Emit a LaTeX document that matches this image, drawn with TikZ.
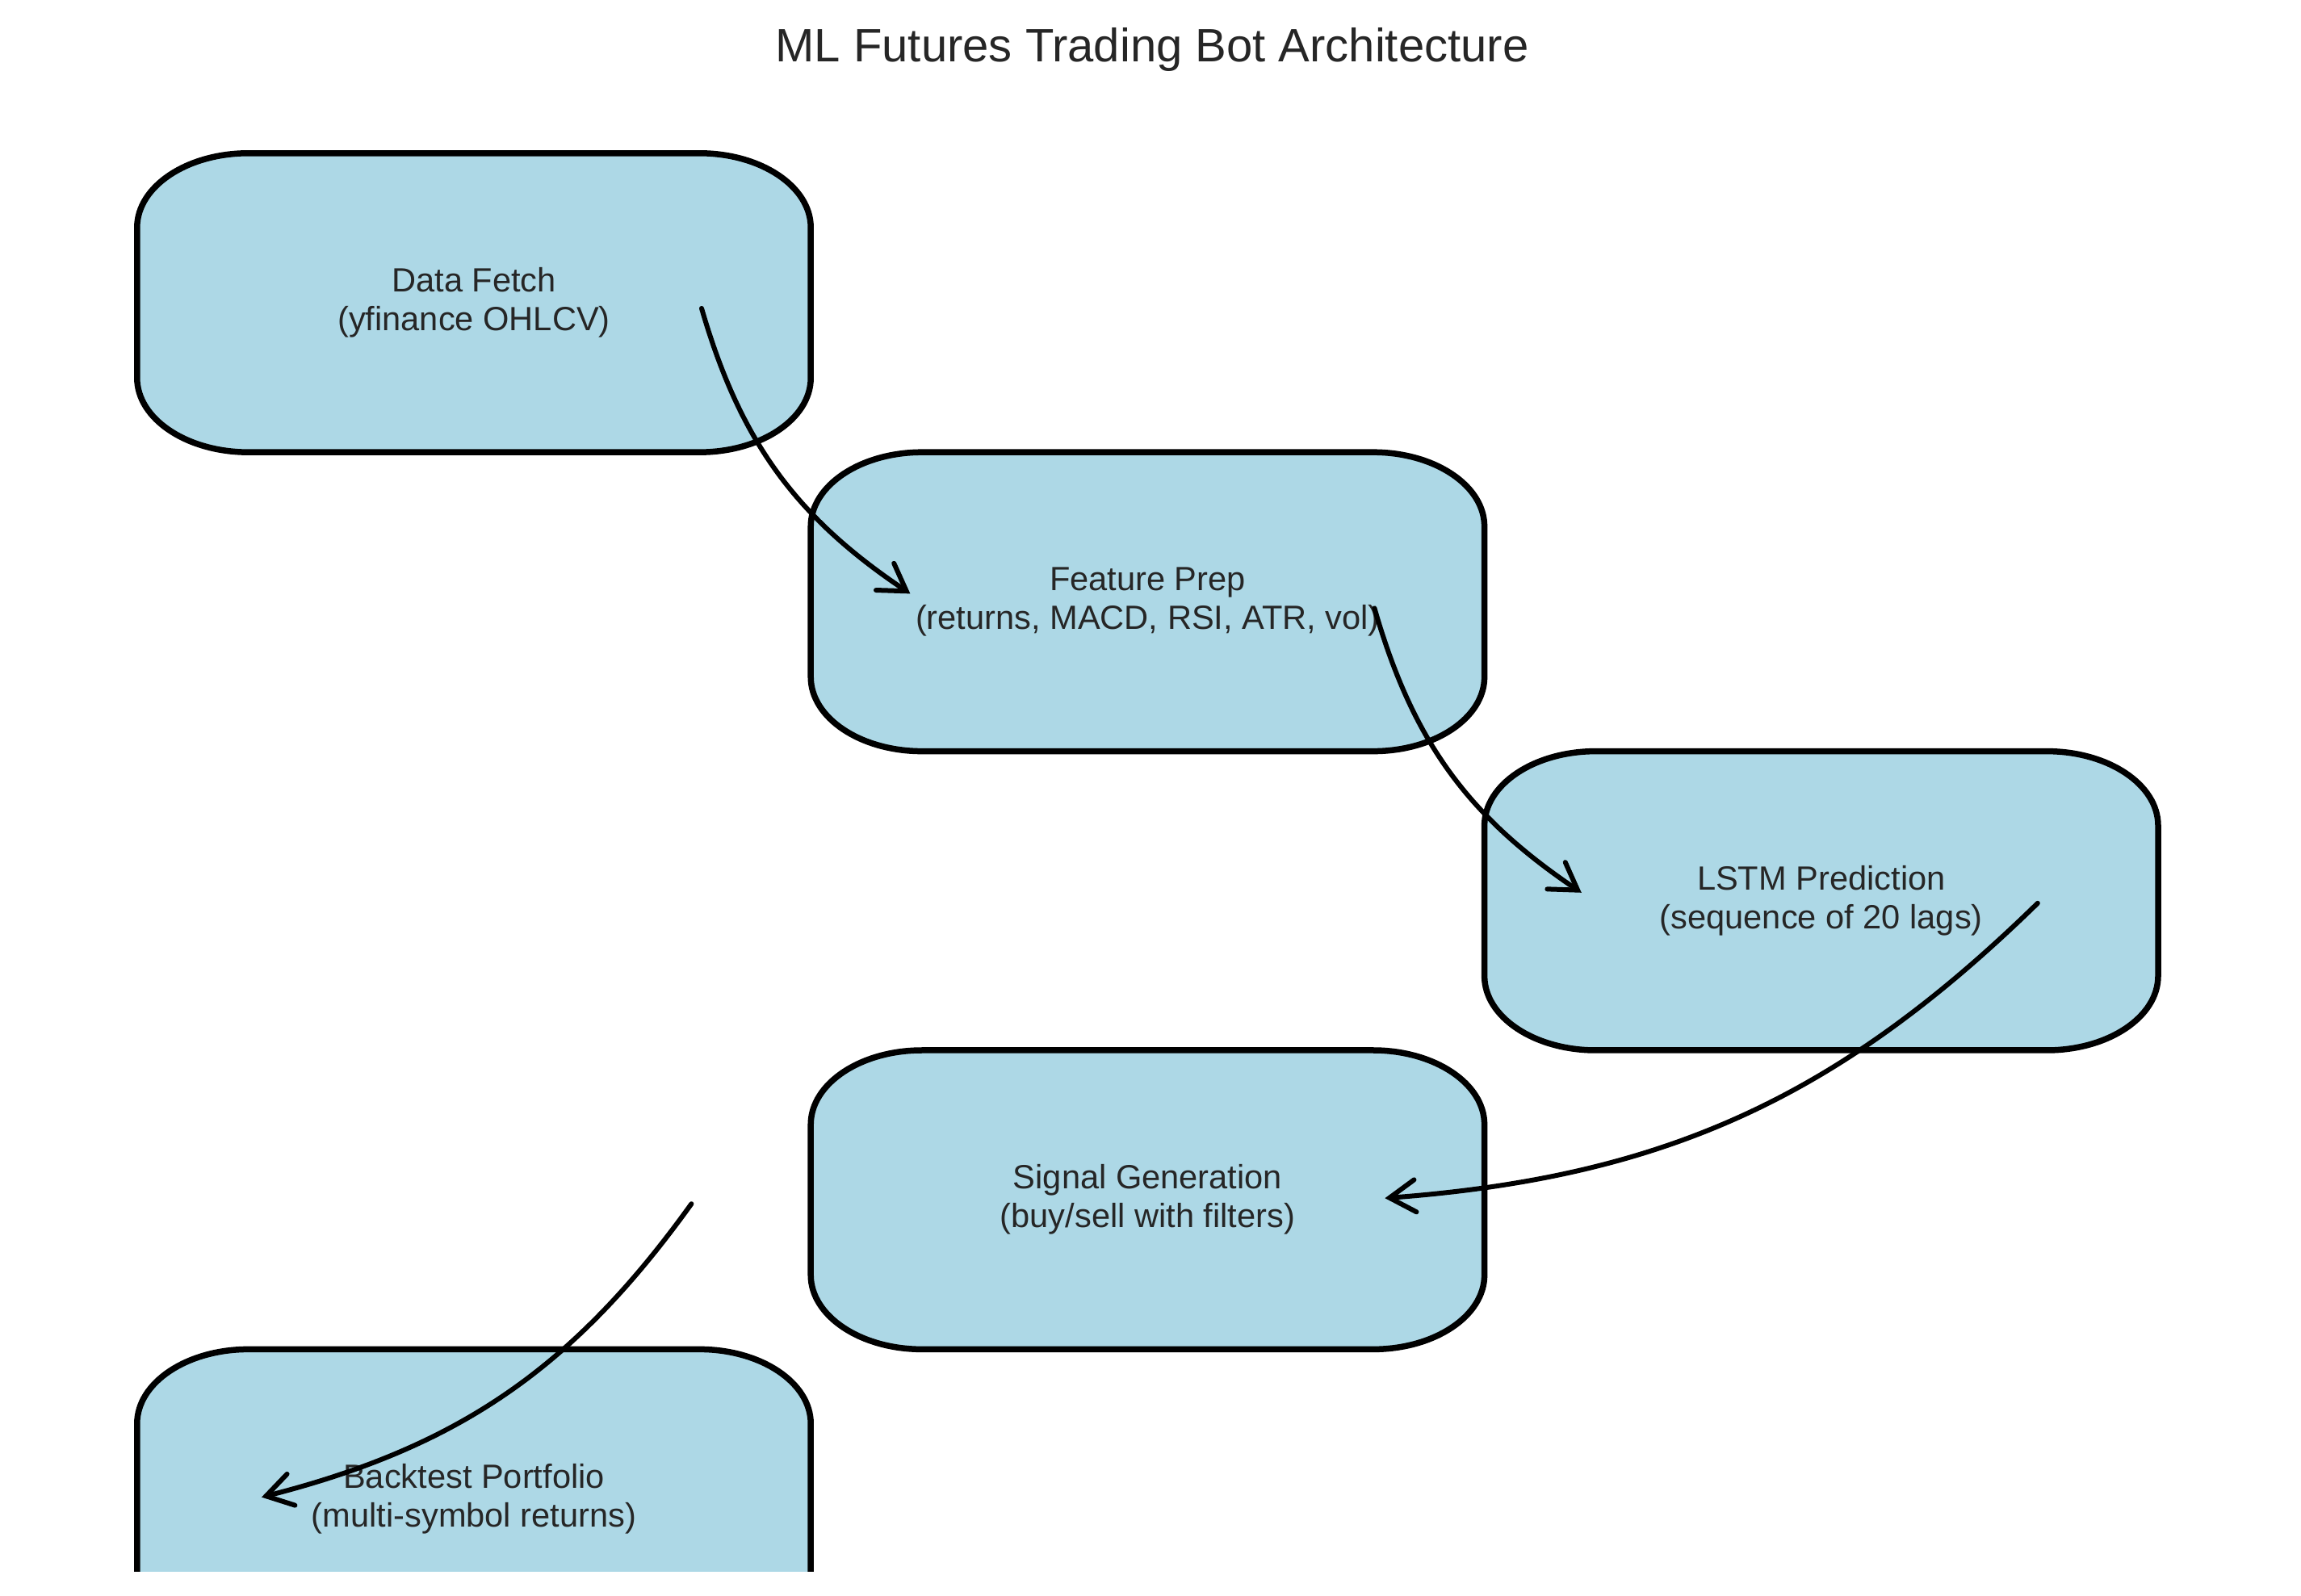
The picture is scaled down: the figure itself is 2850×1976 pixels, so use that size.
\documentclass[tikz,border=0pt]{standalone}
\usepackage{fontspec}
\setmainfont{Liberation Sans}
\usetikzlibrary{positioning,calc,arrows.meta,backgrounds}
\definecolor{boxblue}{HTML}{ADD8E6}
\definecolor{txtgray}{HTML}{262626}
\tikzset{
	stage/.style = {minimum width=834pt, minimum height=370pt, inner sep=0pt,
	 align=center, text=txtgray, font=\fontsize{41.6}{48}\selectfont}}
\tikzset{
	stagebox/.style = {fill=boxblue, draw=black, line width=7.5pt}}
\tikzset{
	flow/.style = {line width=6pt, line cap=round,
	 -{Straight Barb[length=32pt, width=40pt, line cap=round]}}}

\begin{document}
\begin{tikzpicture}[x=1pt, y=1pt, node distance=0pt and 0pt]
\useasboundingbox (0,0) rectangle (2850,1976);

% NODES
\node (title) [anchor=base, text=txtgray, font=\fontsize{58}{70}\selectfont] at (1427,1899) {ML Futures Trading Bot Architecture};
\node (fetch) [stage] at (587,1601) {Data Fetch\\(yfinance OHLCV)};
\node (prep) [stage, below right=of fetch] {Feature Prep\\(returns, MACD, RSI, ATR, vol)};
\node (lstm) [stage, below right=of prep] {LSTM Prediction\\(sequence of 20 lags)};
\node (signal) [stage, below left=of lstm] {Signal Generation\\(buy/sell with filters)};
\node (backtest) [stage, below left=of signal] {Backtest Portfolio\\(multi-symbol returns)};

% BOXES
\begin{scope}[on background layer]
 \clip (0,30) rectangle (2850,1976);
 \foreach \s in {fetch,prep,lstm,signal,backtest}
  \draw[stagebox] ([yshift=92pt]\s.south west) -- ([yshift=-92pt]\s.north west)
   arc[start angle=180, end angle=90, x radius=138pt, y radius=92pt]
   -- ([xshift=-138pt]\s.north east)
   arc[start angle=90, end angle=0, x radius=138pt, y radius=92pt]
   -- ([yshift=92pt]\s.south east)
   arc[start angle=0, end angle=-90, x radius=138pt, y radius=92pt]
   -- ([xshift=138pt]\s.south west)
   arc[start angle=270, end angle=180, x radius=138pt, y radius=92pt] -- cycle;
\end{scope}

% ENDS
\coordinate (fetch-out) at ($(fetch)+(282,-7)$);
\coordinate (prep-in) at ($(prep)+(-294,10)$);
\coordinate (prep-out) at ($(prep)+(281,-8)$);
\coordinate (lstm-in) at ($(lstm)+(-297,10)$);
\coordinate (lstm-out) at ($(lstm)+(268,-3)$);
\coordinate (signal-in) at ($(signal)+(294,2)$);
\coordinate (signal-out) at ($(signal)+(-565,-5)$);
\coordinate (backtest-in) at ($(backtest)+(-263,2)$);

%CONNECTIONS
\draw[flow] (fetch-out) to[bend right=20] (prep-in);
\draw[flow] (prep-out) to[bend right=20] (lstm-in);
\draw[flow] (lstm-out) to[bend left=20] (signal-in);
\draw[flow] (signal-out) to[bend left=20] (backtest-in);

\end{tikzpicture}
\end{document}
